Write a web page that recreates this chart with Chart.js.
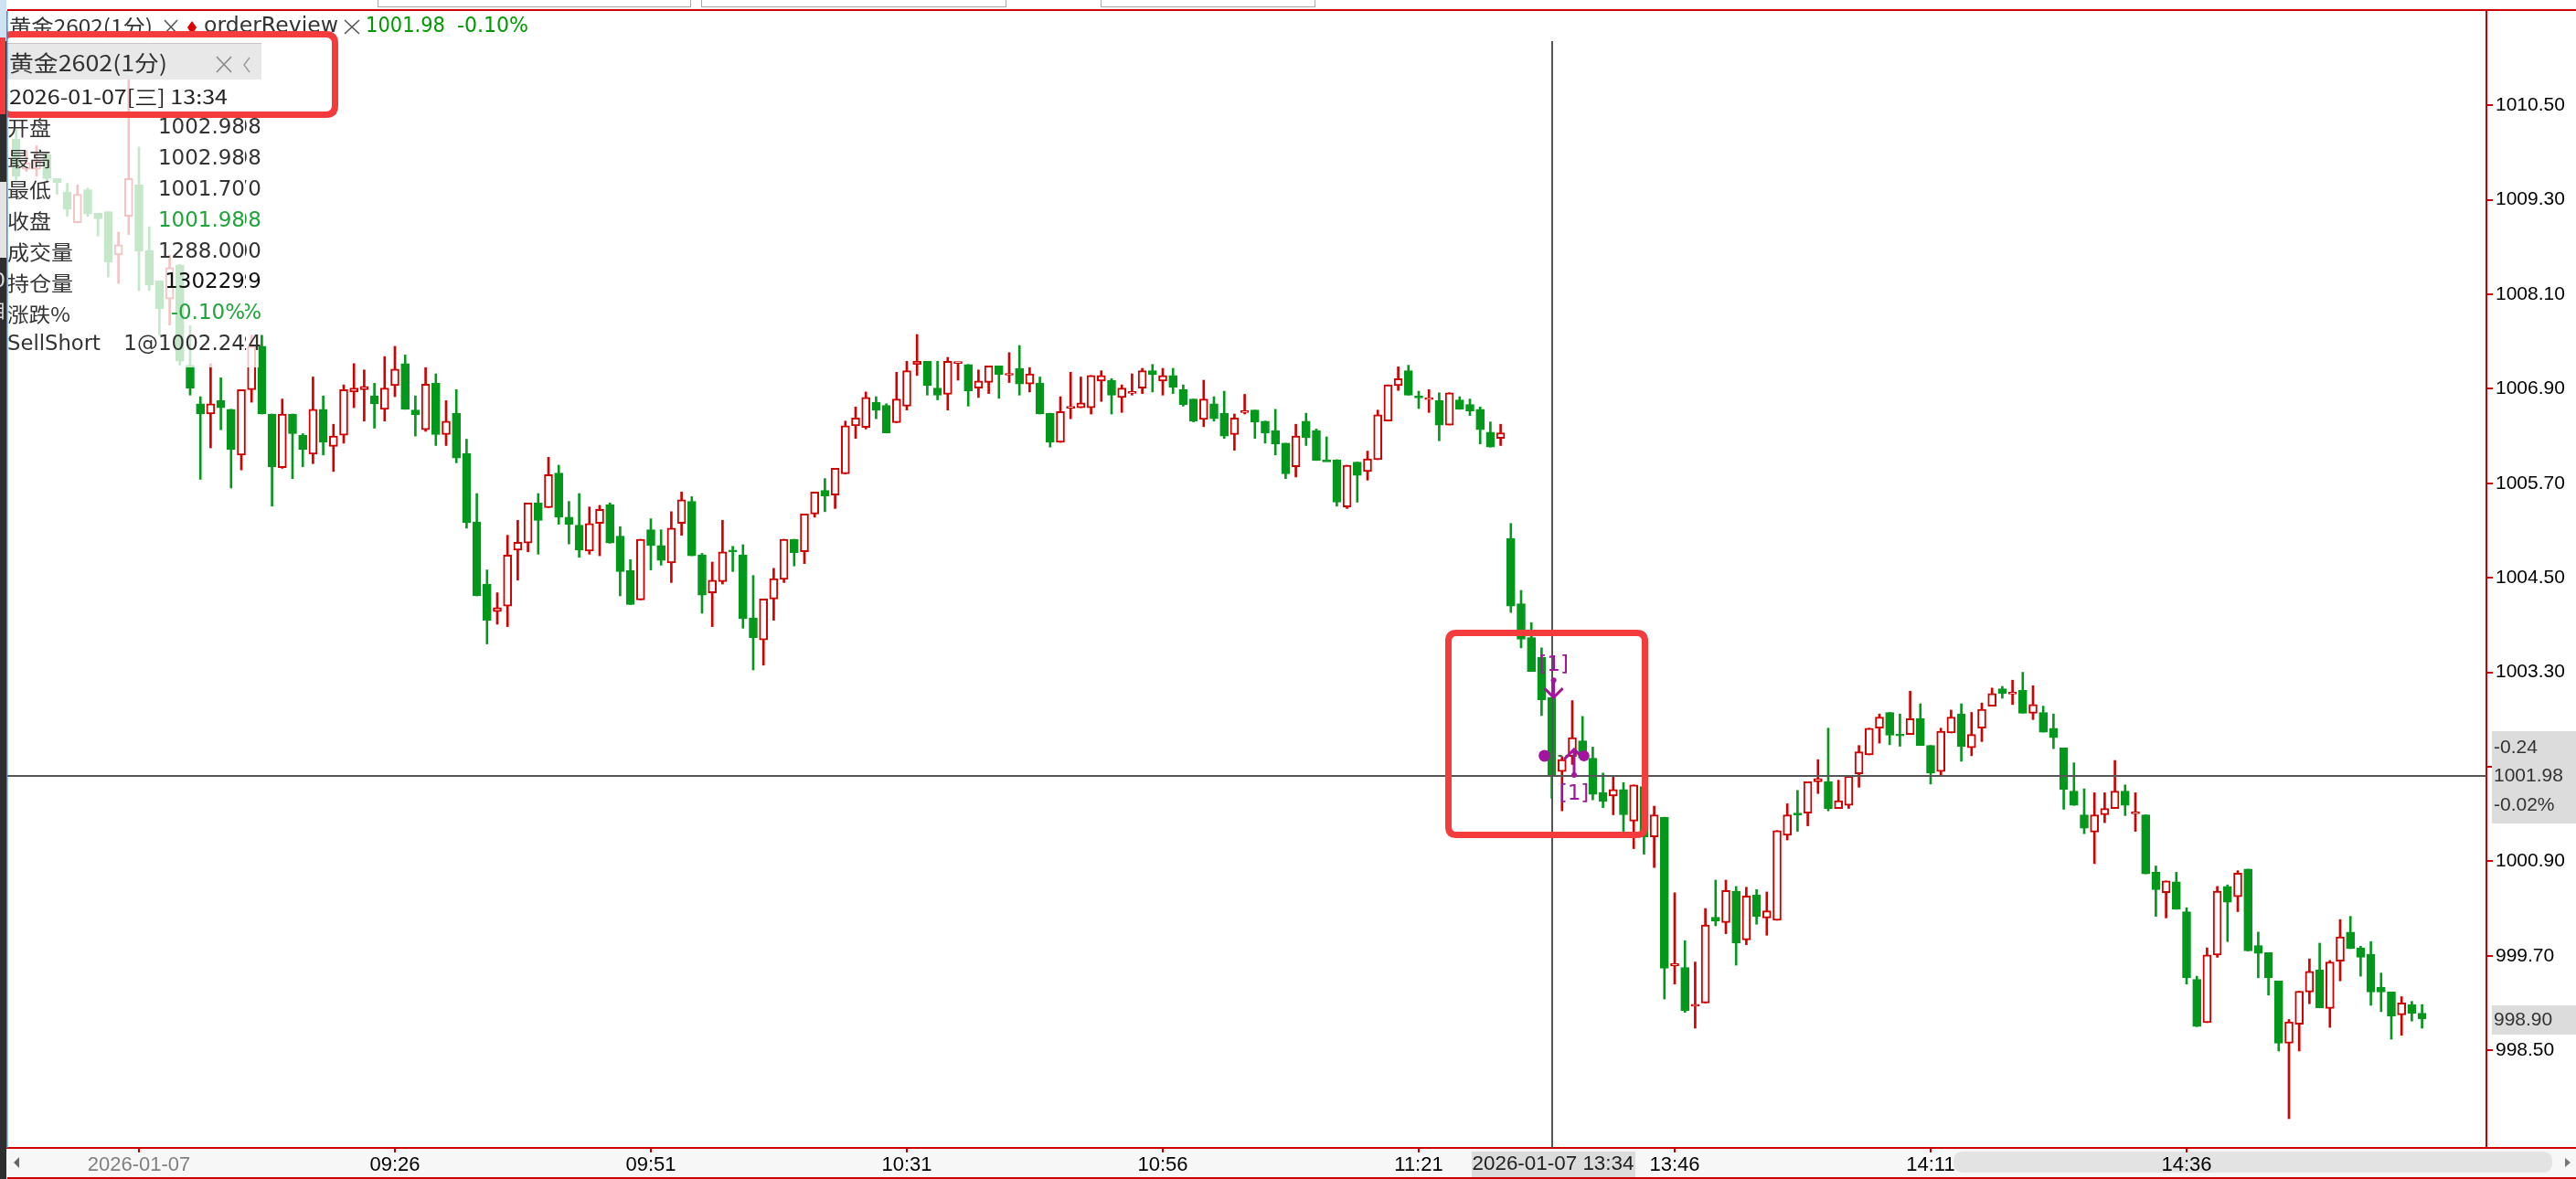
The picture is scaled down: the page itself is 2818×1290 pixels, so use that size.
<!DOCTYPE html>
<html><head><meta charset="utf-8"><title>黄金2602(1分)</title>
<script src="https://cdn.jsdelivr.net/npm/chart.js@4.4.1/dist/chart.umd.min.js"></script>
<style>html,body{margin:0;padding:0;background:#fff;overflow:hidden;}canvas{display:block;}</style>
</head><body>
<canvas id="c" width="2818" height="1290" style="width:2818px;height:1290px"></canvas>
<script>
// ---------- data ----------
const tickIndex  = [12, 37, 62, 87, 112, 137, 162, 187, 212];
const tickLabels = ['2026-01-07','09:26','09:51','10:31','10:56','11:21','13:46','14:11','14:36'];
const yTickValues = [1010.5,1009.3,1008.1,1006.9,1005.7,1004.5,1003.3,1002.1,1000.9,999.7,998.5];

const open = [
1010.07,1009.69,1009.69,1009.88,1009.57,1009.40,1009.01,1009.43,1009.13,1009.15,
1008.60,1009.09,1009.49,1008.66,1008.27,1008.04,1008.47,1007.20,1006.71,1006.58,
1006.75,1006.64,1006.06,1006.89,1007.44,1006.58,1005.90,1006.58,1006.31,1006.07,
1006.64,1006.17,1006.31,1006.86,1006.89,1006.81,1006.64,1006.94,1007.22,1006.63,
1006.38,1006.97,1006.32,1006.59,1006.08,1005.21,1004.42,1004.07,1004.14,1004.85,
1004.94,1005.45,1005.39,1005.83,1005.27,1005.17,1004.84,1005.19,1005.43,1005.03,
1004.59,1004.22,1005.11,1004.91,1004.69,1005.19,1005.47,1004.79,1004.31,1004.45,
1004.85,1004.79,1003.99,1003.71,1004.23,1004.48,1004.99,1004.83,1005.31,1005.61,
1005.55,1005.82,1006.43,1006.41,1006.73,1006.69,1006.47,1006.68,1007.21,1007.25,
1006.91,1006.83,1007.23,1007.21,1006.91,1006.98,1007.19,1007.08,1007.16,1006.96,
1006.97,1006.59,1006.22,1006.66,1006.66,1006.66,1007.00,1007.01,1006.79,1006.85,
1006.91,1007.13,1007.00,1007.07,1006.89,1006.77,1006.51,1006.71,1006.59,1006.32,
1006.60,1006.63,1006.49,1006.37,1006.21,1005.91,1006.49,1006.37,1005.99,1006.00,
1005.40,1005.97,1005.85,1006.00,1006.49,1006.94,1007.13,1006.80,1006.77,1006.75,
1006.44,1006.76,1006.70,1006.64,1006.35,1006.27,1005.00,1004.17,1003.74,1003.49,
1002.98,1002.04,1002.23,1002.43,1002.21,1001.77,1001.73,1001.81,1001.41,1001.85,
1001.21,1001.46,999.57,999.55,999.06,999.10,1000.19,1000.12,1000.52,999.90,
1000.47,1000.18,1000.15,1001.23,1001.51,1001.51,1001.91,1001.91,1001.57,1001.61,
1002.01,1002.25,1002.59,1002.79,1002.51,1002.51,1002.71,1002.37,1002.04,1002.53,
1002.77,1002.34,1002.59,1002.87,1003.09,1003.03,1003.07,1002.78,1002.79,1002.59,
1002.34,1001.79,1001.49,1001.27,1001.49,1001.57,1001.79,1001.51,1001.49,1000.76,
1000.50,1000.64,1000.26,999.40,998.85,999.71,1000.58,1000.45,1000.80,999.83,
999.74,999.38,998.59,998.83,999.24,999.52,999.03,999.63,1000.00,999.80,
999.72,999.30,999.24,998.95,999.08,998.97];

const high = [
1010.20,1009.93,1009.99,1009.90,1009.57,1009.51,1009.49,1009.45,1009.13,1009.15,
1008.89,1010.90,1009.97,1008.96,1008.27,1008.60,1008.48,1007.70,1006.80,1007.22,
1007.04,1006.64,1006.89,1007.58,1007.58,1006.58,1006.77,1006.58,1006.33,1007.05,
1006.81,1006.45,1006.95,1007.22,1007.14,1006.97,1007.31,1007.44,1007.33,1006.81,
1007.17,1007.09,1006.75,1006.89,1006.26,1005.57,1004.60,1004.31,1005.04,1005.23,
1005.45,1005.57,1006.03,1005.93,1005.47,1005.57,1005.40,1005.42,1005.45,1005.15,
1004.73,1004.99,1005.25,1005.11,1005.34,1005.59,1005.53,1004.81,1004.70,1005.23,
1004.90,1004.92,1004.53,1004.23,1004.62,1004.99,1004.99,1005.31,1005.59,1005.76,
1005.89,1006.49,1006.67,1006.86,1006.80,1006.71,1007.11,1007.25,1007.59,1007.25,
1007.25,1007.30,1007.24,1007.21,1007.14,1007.19,1007.19,1007.36,1007.45,1007.17,
1007.05,1006.59,1006.80,1007.11,1007.05,1007.07,1007.13,1007.03,1006.95,1007.09,
1007.16,1007.21,1007.16,1007.16,1006.95,1006.77,1007.01,1006.80,1006.87,1006.58,
1006.83,1006.63,1006.49,1006.64,1006.21,1006.45,1006.59,1006.39,1006.29,1006.00,
1005.93,1005.97,1006.11,1006.63,1006.95,1007.18,1007.20,1006.87,1006.89,1006.85,
1006.85,1006.80,1006.77,1006.67,1006.48,1006.45,1005.19,1004.34,1003.93,1003.61,
1002.98,1002.23,1002.94,1002.74,1002.35,1002.02,1001.98,1001.90,1001.87,1001.95,
1001.60,1001.46,1000.50,999.89,999.62,1000.30,1000.66,1000.66,1000.58,1000.57,
1000.54,1000.51,1001.29,1001.63,1001.80,1001.91,1002.19,1002.59,1001.93,1001.98,
1002.37,1002.59,1002.77,1002.79,1002.77,1003.06,1002.90,1002.37,1002.59,1002.82,
1002.90,1002.79,1002.91,1003.10,1003.12,1003.20,1003.30,1003.13,1002.87,1002.77,
1002.34,1002.15,1001.82,1001.77,1001.77,1002.18,1001.87,1001.77,1001.49,1000.84,
1000.65,1000.76,1000.31,999.44,999.80,1000.58,1000.60,1000.78,1000.80,1000.00,
999.74,999.38,998.89,999.25,999.66,999.86,999.64,1000.16,1000.20,999.82,
999.88,999.48,999.24,999.18,999.12,999.08];

const low = [
1009.55,1009.66,1009.60,1009.55,1009.37,1009.09,1009.01,1009.09,1008.84,1008.32,
1008.24,1008.86,1008.15,1008.15,1007.58,1007.71,1007.20,1006.82,1005.75,1006.15,
1006.38,1005.64,1005.87,1006.73,1006.58,1005.41,1005.89,1005.76,1005.91,1005.95,
1006.06,1005.85,1006.21,1006.66,1006.49,1006.40,1006.49,1006.80,1006.64,1006.30,
1006.36,1006.18,1006.18,1005.96,1005.13,1004.27,1003.66,1003.91,1003.88,1004.47,
1004.83,1004.80,1005.39,1005.18,1004.93,1004.76,1004.80,1004.78,1004.94,1004.27,
1004.16,1004.22,1004.60,1004.66,1004.44,1005.04,1004.78,1004.05,1003.88,1004.42,
1004.58,1003.86,1003.33,1003.39,1003.96,1004.44,1004.65,1004.68,1005.27,1005.34,
1005.38,1005.82,1006.27,1006.39,1006.52,1006.34,1006.47,1006.63,1007.07,1006.82,
1006.76,1006.63,1007.01,1006.68,1006.79,1006.84,1006.78,1006.98,1006.82,1006.86,
1006.58,1006.16,1006.22,1006.52,1006.66,1006.58,1006.74,1006.58,1006.60,1006.82,
1006.84,1006.86,1006.82,1006.84,1006.68,1006.48,1006.42,1006.49,1006.27,1006.12,
1006.58,1006.27,1006.21,1006.06,1005.76,1005.78,1006.18,1005.99,1005.98,1005.41,
1005.38,1005.46,1005.74,1006.00,1006.49,1006.88,1006.82,1006.65,1006.60,1006.24,
1006.44,1006.64,1006.56,1006.20,1006.16,1006.18,1004.06,1003.61,1003.31,1002.75,
1001.70,1001.54,1002.13,1002.21,1001.68,1001.58,1001.49,1001.28,1001.06,1000.99,
1000.82,999.15,999.34,998.98,998.78,999.10,1000.08,999.98,999.58,999.84,
1000.10,999.96,1000.15,1001.17,1001.28,1001.35,1001.76,1001.54,1001.57,1001.57,
1001.84,1002.25,1002.40,1002.38,1002.36,1002.51,1002.37,1001.88,1001.98,1002.53,
1002.17,1002.24,1002.42,1002.87,1002.97,1002.89,1002.78,1002.70,1002.54,1002.33,
1001.56,1001.61,1001.25,1000.87,1001.39,1001.57,1001.48,1001.28,1000.74,1000.20,
1000.18,1000.29,999.34,998.80,998.85,999.68,999.88,1000.26,999.76,999.42,
999.20,998.49,997.63,998.49,999.09,999.04,998.79,999.38,999.79,999.44,
999.07,998.99,998.64,998.69,998.87,998.78];

const close = [
1009.60,1009.77,1009.80,1009.57,1009.52,1009.18,1009.37,1009.12,1009.06,1008.51,
1008.73,1009.57,1008.65,1008.22,1007.92,1008.44,1007.25,1006.91,1006.58,1006.71,
1006.66,1006.13,1006.89,1007.44,1006.58,1005.91,1006.58,1006.33,1006.13,1006.64,
1006.22,1006.30,1006.89,1006.91,1006.93,1006.71,1006.91,1007.15,1006.64,1006.57,
1006.96,1006.32,1006.49,1006.02,1005.20,1004.27,1003.96,1004.12,1004.79,1004.95,
1005.45,1005.23,1005.81,1005.27,1005.18,1004.85,1005.19,1005.37,1004.94,1004.58,
1004.16,1004.99,1004.91,1004.72,1005.13,1005.49,1004.78,1004.28,1004.47,1004.83,
1004.83,1003.98,1003.74,1004.23,1004.49,1004.99,1004.82,1005.31,1005.59,1005.54,
1005.89,1006.43,1006.53,1006.79,1006.63,1006.34,1006.77,1007.13,1007.25,1006.94,
1006.82,1007.25,1007.24,1006.87,1007.00,1007.19,1007.08,1007.09,1006.96,1007.09,
1006.58,1006.22,1006.61,1006.67,1006.72,1007.07,1007.07,1006.82,1006.91,1006.86,
1007.13,1007.08,1007.07,1006.92,1006.70,1006.49,1006.77,1006.52,1006.30,1006.53,
1006.62,1006.48,1006.34,1006.20,1005.82,1006.30,1006.28,1005.99,1005.98,1005.46,
1005.93,1005.80,1006.01,1006.57,1006.95,1007.03,1006.82,1006.79,1006.78,1006.44,
1006.85,1006.64,1006.62,1006.38,1006.16,1006.34,1004.14,1003.72,1003.31,1002.95,
1001.98,1002.19,1002.47,1002.21,1001.75,1001.66,1001.81,1001.49,1001.87,1001.21,
1001.49,999.54,999.60,999.00,999.08,1000.09,1000.14,1000.53,999.86,1000.46,
1000.20,1000.27,1001.29,1001.49,1001.49,1001.91,1001.95,1001.57,1001.67,1001.98,
1002.29,1002.59,1002.73,1002.50,1002.50,1002.71,1002.37,1002.02,1002.55,1002.73,
1002.36,1002.51,1002.83,1003.03,1003.03,1003.04,1002.78,1002.89,1002.54,1002.47,
1001.81,1001.61,1001.32,1001.49,1001.57,1001.79,1001.61,1001.52,1000.74,1000.54,
1000.65,1000.29,999.42,998.80,999.71,1000.52,1000.38,1000.75,999.76,999.73,
999.42,998.59,998.86,999.25,999.50,999.04,999.62,999.94,999.79,999.68,
999.24,999.24,998.93,999.10,998.97,998.90];

const infoLabels = ['开盘','最高','最低','收盘','成交量','持仓量','涨跌%','SellShort'];
const infoValues = ['1002.98','1002.98','1001.70','1001.98','1288.00','130229','-0.10%','1@1002.24'];
const crossIndex = 150, crossPrice = 1001.98;
const crossTags = ['-0.24','1001.98','-0.02%'];
const crossTimeLabel = '2026-01-07 13:34';
const tradePrice = 1002.24, entryIndex = 150, exitIndex = 152;
const boxRange = {k0: 139.9, k1: 159.1, v0: 1001.235, v1: 1003.80};

// ---------- style constants ----------
const RED = '#d10000', GREEN = '#03981c', AX = '#cc0000';
const X_MIN = -0.857, X_MAX = 241.286, Y_MIN = 997.259, Y_MAX = 1011.316;

const idx = open.map((_, i) => i);
const isUp = idx.map(i => close[i] > open[i]);
const bodyData = idx.map(i => {
  let lo = Math.min(open[i], close[i]), hi = Math.max(open[i], close[i]);
  if (hi - lo < 0.024) { const m = (lo + hi) / 2; lo = m - 0.012; hi = m + 0.012; }
  return {x: i, y: [lo, hi]};
});
const wickData = idx.map(i => ({x: i, y: [low[i], high[i]]}));

function rr(c, x, y, w, h, r) {
  c.beginPath(); c.moveTo(x + r, y); c.lineTo(x + w - r, y); c.quadraticCurveTo(x + w, y, x + w, y + r);
  c.lineTo(x + w, y + h - r); c.quadraticCurveTo(x + w, y + h, x + w - r, y + h);
  c.lineTo(x + r, y + h); c.quadraticCurveTo(x, y + h, x, y + h - r);
  c.lineTo(x, y + r); c.quadraticCurveTo(x, y, x + r, y); c.closePath();
}
function txt(c, s, x, y, font, color, align, w) {
  c.save(); c.font = font; c.fillStyle = color; c.textBaseline = 'middle'; c.textAlign = align || 'left';
  if (w) { const m = c.measureText(s).width; c.translate(x, y); c.scale(w / m, 1); c.fillText(s, 0, 0); }
  else c.fillText(s, x, y);
  c.restore();
}
function xmark(c, x0, y0, x1, y1, col) {
  c.save(); c.strokeStyle = col; c.lineWidth = 1.6; c.beginPath();
  c.moveTo(x0, y0); c.lineTo(x1, y1); c.moveTo(x1, y0); c.lineTo(x0, y1); c.stroke(); c.restore();
}

const deco = {
  id: 'deco',
  beforeDraw(chart) {
    const c = chart.ctx; c.save();
    c.fillStyle = '#fff'; c.fillRect(0, 0, 2818, 1290);
    c.fillStyle = '#f7f7f7'; c.fillRect(8, 1257, 2810, 31);
    c.fillStyle = '#e3e3e3'; rr(c, 2137, 1260, 655, 23, 11); c.fill();
    c.fillStyle = AX; c.fillRect(8, 1288, 2810, 2);
    c.fillStyle = '#666'; c.beginPath(); c.moveTo(15, 1272); c.lineTo(21, 1266); c.lineTo(21, 1278); c.closePath(); c.fill();
    c.fillStyle = '#777'; c.beginPath(); c.moveTo(2812, 1272); c.lineTo(2806, 1267); c.lineTo(2806, 1277); c.closePath(); c.fill();
    c.strokeStyle = '#a8a8a8'; c.lineWidth = 1;
    [[413, 755], [767, 1100], [1204, 1438]].forEach(([a, b]) => c.strokeRect(a + 0.5, -2, b - a, 9.5));
    c.fillStyle = AX; c.fillRect(8, 10, 2810, 2);
    c.fillRect(2719, 10, 2, 36);
    c.fillRect(2720, 1255, 98, 2);
    c.restore();
  },
  afterDraw(chart) {
    const c = chart.ctx, xs = chart.scales.x, ys = chart.scales.y;
    const sx = k => xs.getPixelForValue(k), sy = v => ys.getPixelForValue(v);
    c.save();
    // faded info panel
    c.fillStyle = 'rgba(255,255,255,0.77)'; c.fillRect(8, 40, 275, 362);
    // title row
    txt(c, '黄金2602(1分)', 10, 29, '22px "Noto Sans CJK SC"', '#333', 'left', 157);
    xmark(c, 180, 22, 194, 37, '#555');
    c.fillStyle = '#e00000'; c.beginPath(); c.moveTo(210, 23); c.lineTo(215, 30); c.lineTo(210, 38); c.lineTo(205, 30); c.closePath(); c.fill();
    txt(c, 'orderReview', 223, 29, '23px "DejaVu Sans"', '#333', 'left', 147);
    xmark(c, 377, 22, 393, 37, '#555');
    txt(c, '1001.98', 400, 29, '23px "DejaVu Sans"', '#009a00', 'left', 87);
    txt(c, '-0.10%', 500, 29, '23px "DejaVu Sans"', '#009a00', 'left', 78);
    // header box
    c.fillStyle = '#e8e8e8'; c.fillRect(8, 47, 278, 40);
    c.fillStyle = '#c4c4c4'; c.fillRect(8, 47, 278, 1);
    txt(c, '黄金2602(1分)', 10, 69, '24px "Noto Sans CJK SC"', '#333', 'left', 173);
    xmark(c, 237, 62, 253, 79, '#888');
    c.strokeStyle = '#999'; c.lineWidth = 1.4; c.beginPath(); c.moveTo(273, 63); c.lineTo(267, 71); c.lineTo(273, 79); c.stroke();
    txt(c, '2026-01-07[三] 13:34', 10, 106, '21px "Noto Sans CJK SC"', '#222', 'left', 239);
    // rows
    const labelW = [48, 48, 48, 48, 72, 72, 69, 102];
    infoLabels.forEach((lab, i) => {
      const y = 140 + i * 33.9;
      const latin = lab === 'SellShort';
      txt(c, lab, 8, y, latin ? '23px "DejaVu Sans"' : '22px "Noto Sans CJK SC"', '#333', 'left', labelW[i]);
      const col = (i === 3 || i === 6) ? '#1ea53a' : (i === 5 ? '#111' : '#333');
      txt(c, infoValues[i], 268, y, '23px "DejaVu Sans"', col, 'right');
      c.save(); c.beginPath(); c.rect(268, y - 20, 22, 40); c.clip();
      txt(c, infoValues[i], 286, y, '23px "DejaVu Sans"', col, 'right');
      c.restore();
    });
    // crosshair
    const cx = Math.round(sx(crossIndex)), cy = Math.round(sy(crossPrice));
    c.fillStyle = '#555'; c.fillRect(cx - 1, 45, 2, 1211); c.fillRect(8, cy - 1, 2712, 2);
    // trade markers
    const P = '#a3159e';
    const ex = sx(entryIndex) + 2, hy = sy(high[entryIndex]), py = sy(tradePrice);
    txt(c, '[1]', ex, hy - 35, '23px "DejaVu Sans"', P, 'center');
    c.strokeStyle = P; c.fillStyle = P; c.lineWidth = 3;
    c.beginPath(); c.moveTo(ex, hy - 19); c.lineTo(ex, hy); c.moveTo(ex - 10, hy - 10); c.lineTo(ex, hy); c.lineTo(ex + 10, hy - 10); c.stroke();
    c.beginPath(); c.arc(ex, hy - 19, 3, 0, Math.PI * 2); c.fill();
    c.beginPath(); c.arc(sx(entryIndex) - 8, py, 6.5, 0, Math.PI * 2); c.fill();
    c.save(); c.strokeStyle = '#3f6a3f'; c.lineWidth = 2; c.setLineDash([4, 4]);
    c.beginPath(); c.moveTo(sx(entryIndex) - 1, py); c.lineTo(sx(exitIndex + 1) - 4, py); c.stroke(); c.restore();
    c.beginPath(); c.arc(sx(exitIndex + 1) + 1.6, py, 6, 0, Math.PI * 2); c.fill();
    const ux = sx(exitIndex) + 2, uy = py - 7;
    c.beginPath(); c.moveTo(ux, uy + 28); c.lineTo(ux, uy); c.moveTo(ux - 11, uy + 11); c.lineTo(ux, uy); c.lineTo(ux + 11, uy + 11); c.stroke();
    c.beginPath(); c.arc(ux, uy + 28, 3, 0, Math.PI * 2); c.fill();
    txt(c, '[1]', ux, uy + 49, '23px "DejaVu Sans"', P, 'center');
    // red annotation boxes
    c.strokeStyle = '#f43c3c'; c.lineWidth = 7;
    rr(c, 2.5, 37.5, 364, 88, 10); c.stroke();
    const bx0 = sx(boxRange.k0), bx1 = sx(boxRange.k1), by0 = sy(boxRange.v1), by1 = sy(boxRange.v0);
    rr(c, bx0, by0, bx1 - bx0, by1 - by0, 9); c.stroke();
    // right tags
    c.fillStyle = '#dcdcdc'; c.fillRect(2726, cy - 49, 92, 101);
    crossTags.forEach((t, i) => txt(c, t, 2728, cy - 31 + i * 31.5, '21px "Liberation Sans"', '#333', 'left'));
    const ly = Math.round(sy(close[close.length - 1]));
    c.fillStyle = '#dcdcdc'; c.fillRect(2726, ly - 15, 92, 32);
    txt(c, close[close.length - 1].toFixed(2), 2728, ly + 1, '21px "Liberation Sans"', '#333', 'left');
    // bottom time tag
    c.fillStyle = '#dcdcdc'; c.fillRect(cx - 88, 1260, 179, 28);
    txt(c, crossTimeLabel, cx + 1, 1274, '22px "Liberation Sans"', '#222', 'center', 177);
    // left window edge
    c.fillStyle = '#cfe2f4'; c.fillRect(0, 0, 7, 45);
    c.fillStyle = '#2e2e2e'; c.fillRect(0, 45, 7, 1245);
    c.fillStyle = '#e4e4e4'; c.fillRect(0, 199, 7, 83);
    c.save(); c.beginPath(); c.rect(0, 290, 7, 70); c.clip();
    txt(c, '0', 6, 308, '22px "DejaVu Sans"', '#ddd', 'right');
    txt(c, '目', 7, 340, '20px "Noto Sans CJK SC"', '#ddd', 'right');
    c.restore();
    c.fillStyle = '#f43c3c'; c.fillRect(0, 41, 6, 84);
    c.fillStyle = '#3a8ee0'; c.fillRect(7, 12, 1.5, 1244);
    c.restore();
  }
};

new Chart(document.getElementById('c'), {
  type: 'bar',
  data: {
    datasets: [
      { label: 'body', data: bodyData, order: 1, grouped: false,
        backgroundColor: idx.map(i => isUp[i] ? '#ffffff' : GREEN),
        borderColor: idx.map(i => isUp[i] ? RED : GREEN),
        borderWidth: 2, borderSkipped: false,
        categoryPercentage: 1, barPercentage: 1, maxBarThickness: 9 },
      { label: 'wick', data: wickData, order: 2, grouped: false,
        backgroundColor: idx.map(i => isUp[i] ? RED : GREEN),
        borderWidth: 0, categoryPercentage: 1, barPercentage: 1, maxBarThickness: 2 }
    ]
  },
  options: {
    responsive: false, animation: false, devicePixelRatio: 1, events: [],
    layout: { padding: { left: 8, top: 45, right: 0, bottom: 0 } },
    plugins: { legend: { display: false }, tooltip: { enabled: false } },
    scales: {
      x: {
        type: 'linear', position: 'bottom', min: X_MIN, max: X_MAX, bounds: 'data', offset: false,
        afterBuildTicks: s => { s.ticks = tickIndex.map(v => ({ value: v })); },
        afterFit: s => { s.height = 34; },
        ticks: { autoSkip: false, maxRotation: 0, padding: 1,
          font: { family: 'Liberation Sans', size: 22 },
          color: ctx => ctx.index === 0 ? '#808080' : '#000',
          callback: (v, i) => tickLabels[i] },
        grid: { offset: false, drawOnChartArea: false, drawTicks: true, tickLength: 5, color: AX, lineWidth: 2 },
        border: { display: true, color: AX, width: 2 }
      },
      y: {
        type: 'linear', position: 'right', min: Y_MIN, max: Y_MAX, bounds: 'data',
        afterBuildTicks: s => { s.ticks = yTickValues.map(v => ({ value: v })); },
        afterFit: s => { s.width = 98; },
        ticks: { padding: 3, font: { family: 'Liberation Sans', size: 21 }, color: '#000',
          callback: v => Number(v).toFixed(2) },
        grid: { drawOnChartArea: false, drawTicks: true, tickLength: 7, color: AX, lineWidth: 2 },
        border: { display: true, color: AX, width: 2 }
      }
    }
  },
  plugins: [deco]
});
</script>
</body></html>
